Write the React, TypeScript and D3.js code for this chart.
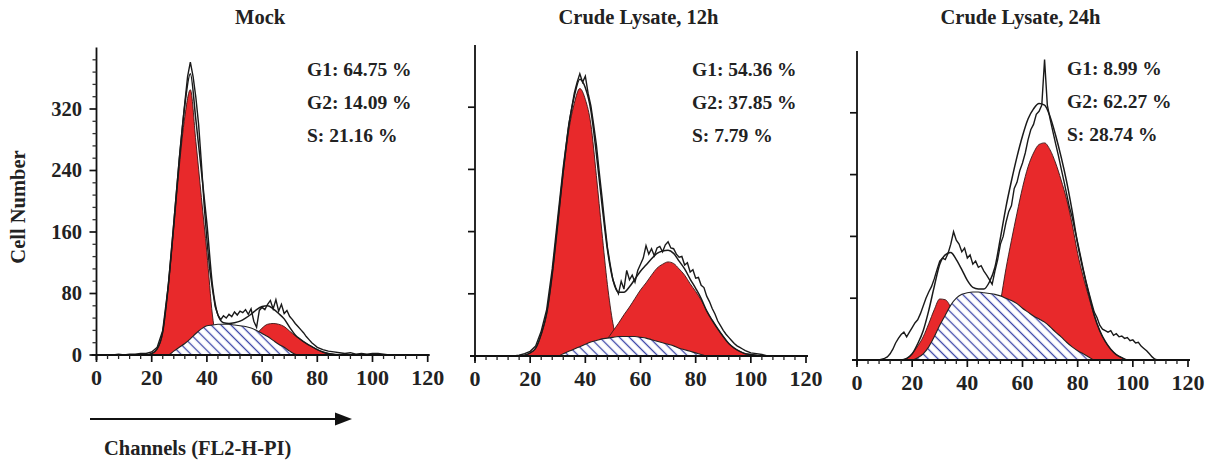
import React from "react";
import * as d3 from "d3";

// channel grid shared by the model-fit curves (10, 12, ... 110)
const fitChannels = d3.range(10, 111, 2);

const xTickLabels = [0, 20, 40, 60, 80, 100, 120];
const yTickLabels = [0, 80, 160, 240, 320];

// ---- Mock ----
const mockG1 = [0, 0, 0, 0, 0, 2, 8, 30, 90, 165, 245, 310, 345, 278, 205, 133, 52, 12, 2, 0,
  0, 0, 0, 0, 0, 0, 0, 0, 0, 0, 0, 0, 0, 0, 0, 0, 0, 0, 0, 0, 0, 0, 0, 0, 0, 0, 0, 0, 0, 0, 0];
const mockS = [0, 0, 0, 0, 0, 0, 0, 0, 0, 5, 10, 15, 21, 28, 34, 38, 39, 40, 40, 40, 39, 38, 37, 35, 32,
  28, 24, 19, 14, 10, 5, 1, 0, 0, 0, 0, 0, 0, 0, 0, 0, 0, 0, 0, 0, 0, 0, 0, 0, 0, 0];
const mockG2 = [0, 0, 0, 0, 0, 0, 0, 0, 0, 0, 0, 0, 0, 0, 0, 0, 0, 0, 0, 1, 3, 6, 11, 18, 27,
  35, 40, 41, 40, 37, 31, 25, 20, 15, 11, 7, 4, 2, 1, 0, 0, 0, 0, 0, 0, 0, 0, 0, 0, 0, 0];
const mockHistogram: [number, number][] = [
  [6, 0], [8, 1], [10, 0], [12, 1], [14, 1], [16, 2], [18, 2], [20, 4], [22, 10], [24, 32], [26, 90],
  [28, 172], [30, 255], [32, 328], [33, 362], [34, 381], [35, 362], [36, 335], [37, 300], [38, 250],
  [39, 195], [40, 150], [41, 112], [42, 86], [43, 63], [44, 52], [45, 46], [46, 51], [47, 48], [48, 53],
  [49, 50], [50, 56], [51, 52], [52, 57], [53, 55], [54, 59], [55, 53], [56, 60], [57, 44], [58, 36],
  [59, 58], [60, 62], [61, 59], [62, 66], [63, 71], [64, 60], [65, 72], [66, 57], [67, 66], [68, 54],
  [69, 58], [70, 50], [71, 46], [72, 41], [73, 37], [74, 33], [75, 29], [76, 24], [77, 20], [78, 16],
  [79, 13], [80, 10], [82, 7], [84, 5], [86, 4], [88, 3], [90, 2], [92, 3], [94, 1], [96, 2], [98, 1],
  [100, 2], [102, 2], [104, 1], [106, 0],
];

// ---- Crude Lysate, 12h ----
const lysate12G1 = [0, 0, 0, 0, 1, 4, 10, 28, 55, 105, 170, 235, 290, 325, 344, 330, 298, 232, 160, 92,
  42, 15, 4, 1, 0, 0, 0, 0, 0, 0, 0, 0, 0, 0, 0, 0, 0, 0, 0, 0, 0, 0, 0, 0, 0, 0, 0, 0, 0, 0, 0];
const lysate12S = [0, 0, 0, 0, 0, 0, 0, 0, 0, 0, 0, 3, 6, 9, 12, 15, 18, 20, 22, 23, 24, 25, 25, 25, 25,
  24, 23, 21, 19, 17, 15, 13, 10, 8, 6, 4, 2, 0, 0, 0, 0, 0, 0, 0, 0, 0, 0, 0, 0, 0, 0];
const lysate12G2 = [0, 0, 0, 0, 0, 0, 0, 0, 0, 0, 0, 0, 0, 0, 0, 0, 0, 8, 14, 22, 32, 42, 53, 63, 74,
  85, 94, 104, 113, 118, 121, 119, 112, 104, 93, 83, 72, 58, 46, 35, 25, 16, 10, 6, 3, 2, 1, 0, 0, 0, 0];
const lysate12Histogram: [number, number][] = [
  [14, 0], [16, 1], [18, 3], [20, 6], [22, 13], [24, 32], [26, 60], [28, 112], [30, 178], [32, 243],
  [34, 298], [35, 318], [36, 338], [37, 352], [38, 363], [39, 352], [40, 360], [41, 338], [42, 322],
  [43, 298], [44, 272], [45, 238], [46, 206], [47, 172], [48, 140], [49, 118], [50, 98], [51, 88],
  [52, 80], [53, 96], [54, 86], [55, 110], [56, 98], [57, 104], [58, 95], [59, 110], [60, 118],
  [61, 126], [62, 142], [63, 131], [64, 138], [65, 129], [66, 139], [67, 141], [68, 134], [69, 143],
  [70, 147], [71, 139], [72, 138], [73, 131], [74, 127], [75, 128], [76, 117], [77, 120], [78, 108],
  [79, 111], [80, 100], [81, 101], [82, 91], [83, 88], [84, 77], [85, 70], [86, 61], [87, 54],
  [88, 45], [89, 39], [90, 33], [91, 28], [92, 24], [93, 20], [94, 16], [95, 13], [96, 11], [97, 9],
  [98, 7], [100, 4], [102, 3], [104, 2], [106, 0],
];

// ---- Crude Lysate, 24h ----
const lysate24G1 = [0, 0, 0, 0, 2, 8, 18, 30, 47, 65, 79, 78, 68, 50, 32, 16, 6, 2, 0, 0,
  0, 0, 0, 0, 0, 0, 0, 0, 0, 0, 0, 0, 0, 0, 0, 0, 0, 0, 0, 0, 0, 0, 0, 0, 0, 0, 0, 0, 0, 0, 0];
const lysate24S = [0, 0, 0, 0, 0, 0, 3, 8, 17, 30, 45, 58, 71, 80, 85, 87, 88, 88, 87, 86, 85, 83, 80, 77, 73,
  67, 62, 57, 53, 49, 43, 36, 30, 23, 17, 12, 8, 4, 0, 0, 0, 0, 0, 0, 0, 0, 0, 0, 0, 0, 0];
const lysate24G2 = [0, 0, 0, 0, 0, 0, 0, 0, 0, 0, 0, 0, 0, 0, 0, 0, 0, 2, 5, 15, 35, 75, 118, 155, 190,
  223, 250, 268, 279, 281, 272, 255, 233, 208, 176, 138, 108, 82, 58, 38, 24, 14, 7, 3, 0, 0, 0, 0, 0, 0, 0];
const lysate24Histogram: [number, number][] = [
  [8, 0], [10, 2], [11, 4], [12, 8], [13, 14], [14, 22], [15, 28], [16, 33], [17, 36], [18, 30],
  [19, 36], [20, 42], [21, 48], [22, 52], [23, 60], [24, 70], [25, 80], [26, 88], [27, 95], [28, 105],
  [29, 117], [30, 128], [31, 132], [32, 130], [33, 138], [34, 150], [35, 166], [36, 155], [37, 150],
  [38, 140], [39, 145], [40, 132], [41, 136], [42, 124], [43, 128], [44, 120], [45, 122], [46, 115],
  [47, 110], [48, 104], [49, 98], [50, 115], [51, 130], [52, 150], [53, 160], [54, 178], [55, 192],
  [56, 200], [57, 222], [58, 230], [59, 245], [60, 255], [61, 268], [62, 285], [63, 298], [64, 305],
  [65, 318], [66, 322], [67, 330], [68, 389], [69, 330], [70, 312], [71, 296], [72, 280], [73, 265],
  [74, 248], [75, 232], [76, 215], [77, 198], [78, 185], [79, 168], [80, 152], [81, 135], [82, 118],
  [83, 102], [84, 88], [85, 75], [86, 62], [87, 55], [88, 45], [89, 40], [90, 38], [91, 36], [92, 38],
  [93, 32], [94, 34], [95, 30], [96, 31], [97, 28], [98, 29], [99, 25], [100, 26], [101, 22],
  [102, 23], [103, 18], [104, 15], [105, 12], [106, 8], [107, 4], [108, 1], [109, 0],
];

const mockStats = ["G1: 64.75 %", "G2: 14.09 %", "S: 21.16 %"];
const lysate12Stats = ["G1: 54.36 %", "G2: 37.85 %", "S: 7.79 %"];
const lysate24Stats = ["G1: 8.99 %", "G2: 62.27 %", "S: 28.74 %"];

const FONT = "'Liberation Serif', 'Times New Roman', serif";
const RED = "#e8292b";

type PanelSpec = {
  title: string;
  stats: string[];
  g1: number[];
  g2: number[];
  s: number[];
  hist: [number, number][];
  yLabels: boolean;
  left: number;
  right: number;
  base: number;
  top: number;
  statX: number;
  statY: number;
};

const panels: PanelSpec[] = [
  { title: "Mock", stats: mockStats, g1: mockG1, g2: mockG2, s: mockS, hist: mockHistogram,
    yLabels: true, left: 96.5, right: 427.7, base: 355, top: 47.5, statX: 307, statY: 76 },
  { title: "Crude Lysate, 12h", stats: lysate12Stats, g1: lysate12G1, g2: lysate12G2, s: lysate12S,
    hist: lysate12Histogram, yLabels: false, left: 475, right: 806, base: 356, top: 45, statX: 692, statY: 76 },
  { title: "Crude Lysate, 24h", stats: lysate24Stats, g1: lysate24G1, g2: lysate24G2, s: lysate24S,
    hist: lysate24Histogram, yLabels: false, left: 857, right: 1188, base: 360, top: 51, statX: 1067, statY: 75 },
];

function Panel({ p }: { p: PanelSpec }) {
  const x = d3.scaleLinear().domain([0, 120]).range([p.left, p.right]);
  const y = d3.scaleLinear().domain([0, 400]).range([p.base, p.top]);

  const pts = (vals: number[]) => fitChannels.map((c, i) => [c, vals[i]] as [number, number]);
  const area = d3
    .area<[number, number]>()
    .x((d) => x(d[0]))
    .y0(y(0))
    .y1((d) => y(d[1]))
    .curve(d3.curveMonotoneX);
  const fitLine = d3
    .line<[number, number]>()
    .x((d) => x(d[0]))
    .y((d) => y(d[1]))
    .curve(d3.curveMonotoneX);
  const histLine = d3
    .line<[number, number]>()
    .x((d) => x(d[0]))
    .y((d) => y(d[1]));

  // model envelope = sum of the fitted components
  const model = fitChannels.map((c, i) => [c, p.g1[i] + p.g2[i] + p.s[i]] as [number, number]);

  const minorX = d3.range(0, 121, 4).filter((v) => v % 20 !== 0);
  const minorY = p.yLabels ? d3.range(0, 400, 16).filter((v) => v % 80 !== 0) : [];
  const majorY = p.yLabels ? yTickLabels : yTickLabels.filter((v) => v > 0);

  return (
    <g>
      <text x={(p.left + p.right) / 2 - 2} y={24} textAnchor="middle" fontFamily={FONT}
        fontWeight="bold" fontSize={20.5} fill="#222">{p.title}</text>

      <path d={area(pts(p.g1)) || ""} fill={RED} stroke="#3a1515" strokeWidth={0.9} />
      <path d={area(pts(p.g2)) || ""} fill={RED} stroke="#3a1515" strokeWidth={0.9} />
      <path d={area(pts(p.s)) || ""} fill="url(#hatch)" stroke="#222" strokeWidth={1.1} />
      <path d={fitLine(model) || ""} fill="none" stroke="#1a1a1a" strokeWidth={1.5} />
      <path d={histLine(p.hist) || ""} fill="none" stroke="#1a1a1a" strokeWidth={1.4} />

      {/* axes */}
      <line x1={x(0)} x2={x(0)} y1={y(0) + 5} y2={y(400)} stroke="#111" strokeWidth={1.8} />
      <line x1={x(0) - 5} x2={x(120) + 2} y1={y(0)} y2={y(0)} stroke="#111" strokeWidth={1.8} />
      {minorX.map((v) => (
        <line key={"mx" + v} x1={x(v)} x2={x(v)} y1={y(0)} y2={y(0) + 4} stroke="#222" strokeWidth={1.3} />
      ))}
      {xTickLabels.map((v) => (
        <g key={"x" + v}>
          <line x1={x(v)} x2={x(v)} y1={y(0)} y2={y(0) + 7} stroke="#111" strokeWidth={1.7} />
          <text x={x(v)} y={y(0) + 29.5} textAnchor="middle" fontFamily={FONT} fontWeight="bold"
            fontSize={22} fill="#222">{v}</text>
        </g>
      ))}
      {minorY.map((v) => (
        <line key={"my" + v} x1={x(0) - 4} x2={x(0)} y1={y(v)} y2={y(v)} stroke="#333" strokeWidth={1.3} />
      ))}
      {majorY.map((v) => (
        <g key={"y" + v}>
          <line x1={x(0) - 7} x2={x(0)} y1={y(v)} y2={y(v)} stroke="#111" strokeWidth={1.7} />
          {p.yLabels && (
            <text x={82} y={y(v) + 6.5} textAnchor="end" fontFamily={FONT} fontWeight="bold"
              fontSize={20.5} fill="#222">{v}</text>
          )}
        </g>
      ))}

      {p.stats.map((t, i) => (
        <text key={t} x={p.statX} y={p.statY + i * 33} fontFamily={FONT} fontWeight="bold"
          fontSize={19.5} fill="#222">{t}</text>
      ))}
    </g>
  );
}

export default function App() {
  return (
    <svg width={1210} height={462} style={{ position: "absolute", left: 0, top: 0, background: "#fff" }}>
      <defs>
        <pattern id="hatch" width={7} height={7} patternUnits="userSpaceOnUse" patternTransform="rotate(45)">
          <rect width={7} height={7} fill="#fff" />
          <line x1={0} x2={7} y1={3.5} y2={3.5} stroke="#3c46a8" strokeWidth={1.3} />
        </pattern>
      </defs>
      {panels.map((p) => (
        <Panel key={p.title} p={p} />
      ))}
      <text transform="translate(25,207) rotate(-90)" textAnchor="middle" fontFamily={FONT}
        fontWeight="bold" fontSize={20.5} fill="#222">Cell Number</text>
      <line x1={90} x2={338} y1={419} y2={419} stroke="#111" strokeWidth={2} />
      <polygon points="335,412.5 352,419 335,425.5" fill="#111" />
      <text x={104} y={455} fontFamily={FONT} fontWeight="bold" fontSize={20.5} fill="#222">
        Channels (FL2-H-PI)
      </text>
    </svg>
  );
}
